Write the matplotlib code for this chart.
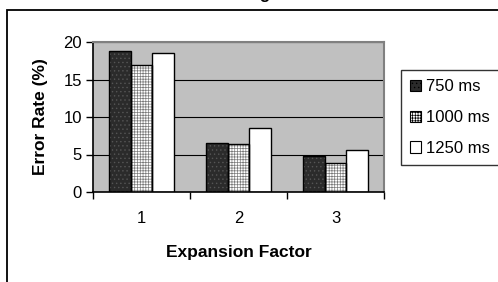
import numpy as np
import matplotlib.pyplot as plt
from matplotlib.patches import Rectangle

plt.rcParams['font.family'] = ['Liberation Sans', 'DejaVu Sans']
plt.rcParams['hatch.linewidth'] = 0.5

## Datos

factores = ['1', '2', '3']
series   = ['750 ms', '1000 ms', '1250 ms']
err_750  = [18.8, 6.6, 4.8]
err_1000 = [16.9, 6.4, 3.9]
err_1250 = [18.5, 8.5, 5.6]
yticks   = [0, 5, 10, 15, 20]

fig = plt.figure(figsize=(4.98, 2.82), dpi=100)
ax = fig.add_axes([93/498, 1 - 192/282, 291/498, 150/282])

# marco exterior del grafico (se sale por la derecha y abajo)
fig.patches.append(Rectangle((6.5/498, -0.2), 1.2, 1.2 - 9.5/282,
                             transform=fig.transFigure, fill=False,
                             edgecolor='black', linewidth=1.3, zorder=0))
# trozo del titulo cortado arriba
fig.text(264/498, 1.0 + 0.5/282, 'g', fontsize=12, fontweight='bold',
         ha='center', va='baseline')

x = np.arange(len(factores))
w = 0.225

estilos = [
    dict(face='#2b2b2b', hatch='....', hcol='#555555'),
    dict(face='white', hatch='++++++', hcol='#7a7a7a'),
    dict(face='white', hatch=None, hcol='white'),
]
valores = [err_750, err_1000, err_1250]

for i, (vals, st) in enumerate(zip(valores, estilos)):
    pos = x + (i - 1) * w
    ax.bar(pos, vals, w, color=st['face'], hatch=st['hatch'],
           edgecolor=st['hcol'], linewidth=0, zorder=2)
    ax.bar(pos, vals, w, fill=False, edgecolor='black', linewidth=1.0,
           zorder=3, label=series[i])

ax.set_facecolor('#c0c0c0')
ax.set_xlim(-0.5, 2.5)
ax.set_ylim(0, 20)
ax.set_yticks(yticks)
ax.yaxis.grid(True, color='black', linewidth=0.8)
ax.set_axisbelow(True)

ax.set_xticks([-0.5, 0.5, 1.5, 2.5])
ax.set_xticklabels([])
ax.set_xticks(x, minor=True)
ax.set_xticklabels(factores, minor=True)
ax.tick_params(axis='x', which='major', direction='out', length=5, width=1)
ax.tick_params(axis='x', which='minor', length=0, pad=14, labelsize=12)
ax.tick_params(axis='y', direction='out', length=5, width=1, labelsize=12, pad=3)

for s in ['top', 'right']:
    ax.spines[s].set_color('#808080')
    ax.spines[s].set_linewidth(1.5)
for s in ['left', 'bottom']:
    ax.spines[s].set_color('black')
    ax.spines[s].set_linewidth(1.2)

ax.set_ylabel('Error Rate (%)', fontsize=12.5, fontweight='bold', labelpad=11)
ax.set_xlabel('Expansion Factor', fontsize=12.5, fontweight='bold', labelpad=13)

# la leyenda usa las barras con relleno
h = []
for st in estilos:
    h.append(Rectangle((0, 0), 1, 1, facecolor=st['face'], hatch=st['hatch'],
                       edgecolor='black', linewidth=0.8))
leg = fig.legend(h, series, loc='upper left',
                 bbox_to_anchor=(401/498, 1 - 70/282), fontsize=12,
                 frameon=True, fancybox=False, edgecolor='black',
                 handlelength=0.65, handleheight=0.65, handletextpad=0.3,
                 labelspacing=0.95, borderpad=0.55, borderaxespad=0)
leg.get_frame().set_linewidth(1.0)

plt.savefig('out.png', dpi=100)
